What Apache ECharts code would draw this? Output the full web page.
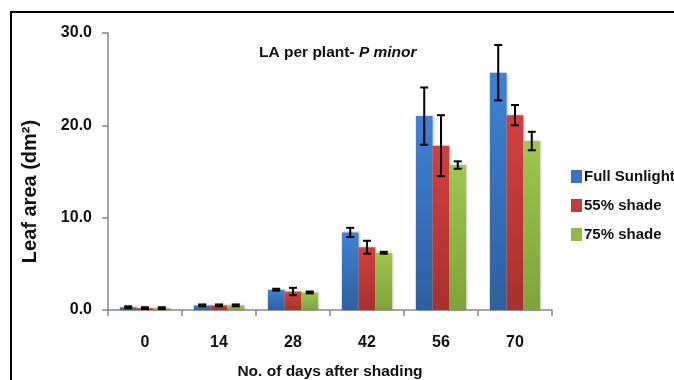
<!DOCTYPE html>
<html>
<head>
<meta charset="utf-8">
<script src="https://cdn.jsdelivr.net/npm/echarts@6/dist/echarts.min.js"></script>
<style>
html,body{margin:0;padding:0;background:#fff;}
#main{width:674px;height:380px;}
</style>
</head>
<body>
<div id="main"></div>
<script>
// categories and values
var days = ['0', '14', '28', '42', '56', '70'];
var seriesNames = ['Full Sunlight', '55% shade', '75% shade'];
var fullSun = [0.3, 0.5, 2.2, 8.4, 21.0, 25.7];
var shade55 = [0.2, 0.5, 2.0, 6.8, 17.8, 21.1];
var shade75 = [0.2, 0.5, 1.9, 6.2, 15.7, 18.3];
// standard error (+/-)
var errFull = [0.1, 0.1, 0.1, 0.5, 3.1, 3.0];
var err55 = [0.1, 0.1, 0.4, 0.7, 3.3, 1.1];
var err75 = [0.1, 0.1, 0.1, 0.1, 0.4, 1.0];
var yTicks = [0, 10, 20, 30];

var chart = echarts.init(document.getElementById('main'));
var font = '"Liberation Sans", Arial, sans-serif';
var gapPct = 0.32;

function grad(top, bottom) {
    return new echarts.graphic.LinearGradient(0, 0, 0, 1, [
        {offset: 0, color: top}, {offset: 1, color: bottom}
    ]);
}
var barColors = [grad('#3f82d6', '#2d5f9f'), grad('#d2403d', '#a8302d'), grad('#9ec74c', '#7fa33a')];
var legendColors = ['#3a74c0', '#c43a37', '#92bb46'];

function errData(vals, errs) {
    return vals.map(function (v, i) { return [i, v - errs[i], v + errs[i]]; });
}

function errSeries(idx, vals, errs) {
    return {
        type: 'custom',
        name: 'err' + idx,
        z: 10,
        data: errData(vals, errs),
        renderItem: function (params, api) {
            var band = api.size([1, 0])[0];
            var bw = band * (1 - gapPct) / 3;
            var x = api.coord([api.value(0), 0])[0] + (idx - 1) * bw;
            var lo = api.coord([api.value(0), api.value(1)])[1];
            var hi = api.coord([api.value(0), api.value(2)])[1];
            var cap = 4;
            var st = {stroke: '#000', lineWidth: 2};
            return {
                type: 'group',
                children: [
                    {type: 'line', shape: {x1: x, y1: hi, x2: x, y2: lo}, style: st},
                    {type: 'line', shape: {x1: x - cap, y1: hi, x2: x + cap, y2: hi}, style: st},
                    {type: 'line', shape: {x1: x - cap, y1: lo, x2: x + cap, y2: lo}, style: st}
                ]
            };
        }
    };
}

function barSeries(idx, vals) {
    return {
        name: seriesNames[idx],
        type: 'bar',
        data: vals,
        barGap: '0%',
        barCategoryGap: (gapPct * 100) + '%',
        itemStyle: {
            color: barColors[idx],
            shadowColor: 'rgba(0,0,0,0.25)',
            shadowBlur: 3,
            shadowOffsetX: 1
        }
    };
}

var option = {
    backgroundColor: '#fff',
    animation: false,
    title: {
        text: '{n|LA per plant- }{i|P minor}',
        left: 254,
        top: 40,
        textStyle: {
            rich: {
                n: {fontFamily: font, fontSize: 15.5, color: '#111'},
                i: {fontFamily: font, fontSize: 15.5, fontStyle: 'italic', color: '#111'}
            }
        }
    },
    legend: {
        data: seriesNames.map(function (n, i) {
            return {name: n, itemStyle: {color: legendColors[i]}};
        }),
        orient: 'vertical',
        left: 566,
        top: 164,
        itemWidth: 11,
        itemHeight: 13,
        itemGap: 14,
        icon: 'rect',
        textStyle: {fontFamily: font, fontSize: 15, fontWeight: 'bold', color: '#111', padding: [0, 0, 0, -3]}
    },
    grid: {left: 108, right: 122, top: 33, bottom: 70, outerBoundsMode: 'none'},
    xAxis: {
        type: 'category',
        data: days,
        name: 'No. of days after shading',
        nameLocation: 'middle',
        nameGap: 54,
        nameTextStyle: {fontFamily: font, fontSize: 15.5, fontWeight: 'bold', color: '#111'},
        axisLine: {lineStyle: {color: '#888', width: 1.5}},
        axisTick: {show: true, length: 6, lineStyle: {color: '#888', width: 1.5}},
        axisLabel: {fontFamily: font, fontSize: 16, fontWeight: 'bold', color: '#111', margin: 25}
    },
    yAxis: {
        type: 'value',
        min: yTicks[0],
        max: yTicks[yTicks.length - 1],
        interval: 10,
        name: 'Leaf area (dm\u00b2)',
        nameLocation: 'middle',
        nameGap: 68,
        nameTextStyle: {fontFamily: font, fontSize: 20, fontWeight: 'bold', color: '#111', padding: [0, 0, 0, -40]},
        splitLine: {show: false},
        axisLine: {show: true, lineStyle: {color: '#888', width: 1.5}},
        axisTick: {show: true, length: 6, lineStyle: {color: '#888', width: 1.5}},
        axisLabel: {
            fontFamily: font, fontSize: 16, fontWeight: 'bold', color: '#111', margin: 16,
            padding: [3, 0, 0, 0],
            formatter: function (v) { return v.toFixed(1); }
        }
    },
    graphic: [{
        type: 'rect',
        shape: {x: 11, y: 12, width: 700, height: 400},
        style: {fill: 'none', stroke: '#000', lineWidth: 2}
    }],
    series: [
        barSeries(0, fullSun),
        barSeries(1, shade55),
        barSeries(2, shade75),
        errSeries(0, fullSun, errFull),
        errSeries(1, shade55, err55),
        errSeries(2, shade75, err75)
    ]
};
chart.setOption(option);
</script>
</body>
</html>
